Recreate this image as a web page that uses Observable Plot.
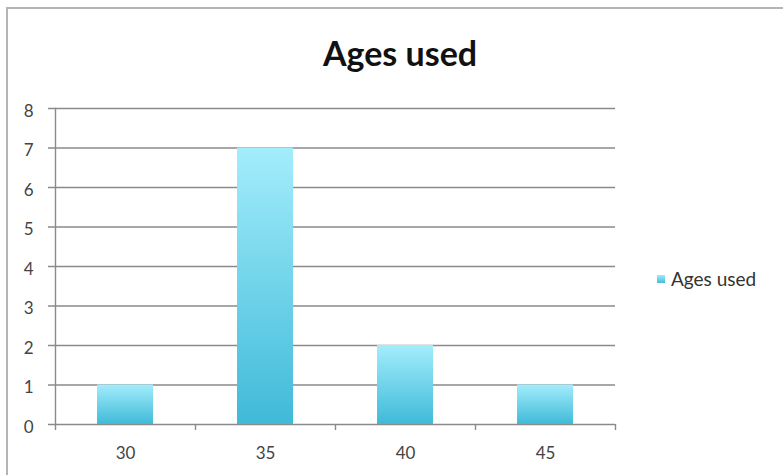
<!DOCTYPE html>
<html>
<head>
<meta charset="utf-8">
<script src="https://cdn.jsdelivr.net/npm/d3@7"></script>
<script src="https://cdn.jsdelivr.net/npm/@observablehq/plot@0.6"></script>
<style>
  html, body { margin: 0; padding: 0; background: #fff; }
  #wrap { position: relative; width: 783px; height: 475px; overflow: hidden; font-family: Lato, "Open Sans", sans-serif; }
  #frame { position: absolute; left: 6px; top: 7px; right: -10px; bottom: -10px; border-left: 2px solid #b4b4b4; border-top: 2px solid #b4b4b4; }
  #title { position: absolute; left: 0; width: 800px; top: 32px; text-align: center; font-size: 34px; font-weight: bold; color: #111; }
  #chart { position: absolute; left: 0; top: 0; }
  #legend { position: absolute; left: 657px; top: 267px; font-size: 19px; color: #333; display: flex; align-items: center; }
  #legend .sw { width: 8px; height: 8px; background: linear-gradient(#9fe9f9, #45bcda); margin-right: 6px; }
</style>
</head>
<body>
<div id="wrap">
  <div id="frame"></div>
  <div id="chart"></div>
  <div id="title">Ages used</div>
  <div id="legend"><div class="sw"></div><span>Ages used</span></div>
</div>
<script>
const categories = ["30", "35", "40", "45"];
const values = [1, 7, 2, 1];
const yTicks = [0, 1, 2, 3, 4, 5, 6, 7, 8];
const seriesName = "Ages used";

const data = categories.map((c, i) => ({age: c, count: values[i]}));

const W = 783, H = 475;
const mL = 55, mR = 168, mT = 108, mB = 51;
const padInner = 0.6, padOuter = 0.3;
const step = (W - mL - mR) / (categories.length - padInner + 2 * padOuter);
const gridColor = "#8a8a8a";

const plot = Plot.plot({
  width: W,
  height: H,
  marginLeft: mL,
  marginRight: mR,
  marginTop: mT,
  marginBottom: mB,
  style: {fontFamily: "Lato, 'Open Sans', sans-serif", fontSize: "17px", color: "#444", background: "transparent"},
  x: {domain: categories, paddingInner: padInner, paddingOuter: padOuter, label: null},
  y: {domain: [0, 8], label: null},
  marks: [
    Plot.ruleY(yTicks, {y: d => d, insetLeft: -7, stroke: gridColor, strokeWidth: 1.4}),
    Plot.barY(data, {x: "age", y: "count", fill: "url(#barGrad)"}),
    Plot.frame({anchor: "left", stroke: gridColor, strokeWidth: 1.4}),
    Plot.ruleX(categories, {x: d => d, y1: 0, y2: 0, insetBottom: -6, dx: -step / 2, stroke: gridColor, strokeWidth: 1.4}),
    Plot.ruleX(categories.slice(-1), {x: d => d, y1: 0, y2: 0, insetBottom: -6, dx: step / 2, stroke: gridColor, strokeWidth: 1.4}),
    Plot.axisY(yTicks, {tickSize: 0, tickPadding: 22, dy: 3, fill: "#444", fontSize: 17}),
    Plot.axisX({tickSize: 0, tickPadding: 22, fill: "#444", fontSize: 17})
  ]
});

const svg = d3.select(plot);
const defs = svg.insert("defs", ":first-child");
const g = defs.append("linearGradient").attr("id", "barGrad").attr("x1", 0).attr("y1", 0).attr("x2", 0).attr("y2", 1);
g.append("stop").attr("offset", "0%").attr("stop-color", "#a3edfc");
g.append("stop").attr("offset", "100%").attr("stop-color", "#3fbad8");

document.getElementById("chart").appendChild(plot);
</script>
</body>
</html>
